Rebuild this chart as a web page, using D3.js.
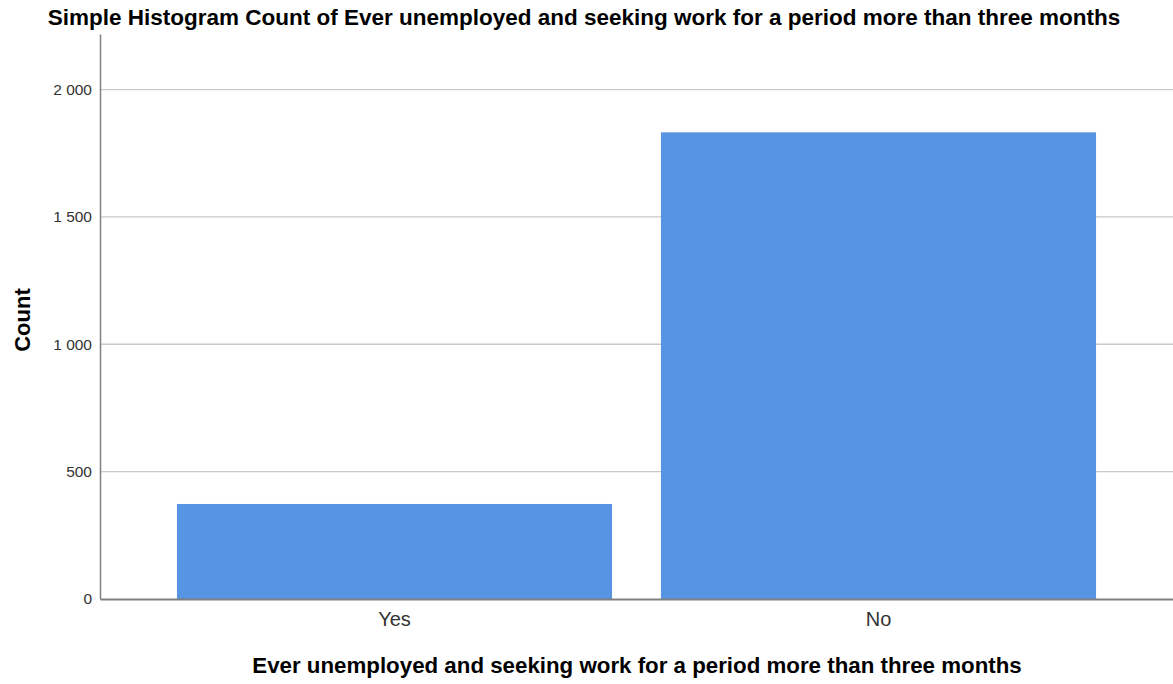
<!DOCTYPE html>
<html><head><meta charset="utf-8">
<script src="https://cdn.jsdelivr.net/npm/d3@7"></script>
<style>body{margin:0;background:#fff;} svg{display:block;font-family:"Liberation Sans",Arial,sans-serif;}</style>
</head><body>
<svg id="chart" width="1173" height="684"></svg>
<script>
const categories = ["Yes", "No"];
const counts = [373, 1832];
const yTicks = [0, 500, 1000, 1500, 2000];
const yTickLabels = ["0", "500", "1 000", "1 500", "2 000"];
const titleText = "Simple Histogram Count of Ever unemployed and seeking work for a period more than three months";
const xTitle = "Ever unemployed and seeking work for a period more than three months";
const yTitle = "Count";

const svg = d3.select("#chart");
const W = 1173, H = 684;
const m = {left: 100, right: 0, top: 34, bottom: 85};
const y = d3.scaleLinear().domain([0, 2218]).range([H - m.bottom, m.top]);
const x = d3.scaleBand().domain(categories).range([m.left, W - m.right]).paddingInner(0.101).paddingOuter(0.159);

// gridlines
svg.append("g").selectAll("line").data(yTicks.filter(d => d > 0)).join("line")
  .attr("x1", m.left).attr("x2", W).attr("y1", d => y(d)).attr("y2", d => y(d))
  .attr("stroke", "#c8c8c8").attr("stroke-width", 1.3);

// bars
svg.append("g").selectAll("rect").data(categories).join("rect")
  .attr("x", d => x(d)).attr("width", x.bandwidth())
  .attr("y", (d, i) => y(counts[i])).attr("height", (d, i) => y(0) - y(counts[i]))
  .attr("fill", "#5795e3");

// y axis
const yAxis = d3.axisLeft(y).tickValues(yTicks).tickSize(0).tickPadding(8)
  .tickFormat((d, i) => yTickLabels[i]);
const gy = svg.append("g").attr("transform", `translate(${m.left},0)`).call(yAxis);
gy.select(".domain").attr("stroke", "#808080").attr("stroke-width", 1.5);
gy.selectAll("text").attr("font-size", 15.5).attr("fill", "#333").attr("font-family", "Liberation Sans, Arial, sans-serif");

// x axis
const xAxis = d3.axisBottom(x).tickSize(0).tickPadding(13);
const gx = svg.append("g").attr("transform", `translate(0,${y(0)})`).call(xAxis);
gx.select(".domain").attr("stroke", "#808080").attr("stroke-width", 1.8);
gx.selectAll("text").attr("font-size", 20).attr("fill", "#333").attr("font-family", "Liberation Sans, Arial, sans-serif");

// titles
svg.append("text").attr("x", 584).attr("y", 25).attr("text-anchor", "middle")
  .attr("font-weight", "bold").attr("font-size", 22.5).attr("fill", "#000").text(titleText);
svg.append("text").attr("x", 637).attr("y", 673).attr("text-anchor", "middle")
  .attr("font-weight", "bold").attr("font-size", 22.3).attr("fill", "#000").text(xTitle);
svg.append("text").attr("transform", "translate(30,320) rotate(-90)").attr("text-anchor", "middle")
  .attr("font-weight", "bold").attr("font-size", 22).attr("fill", "#000").text(yTitle);
</script>
</body></html>
